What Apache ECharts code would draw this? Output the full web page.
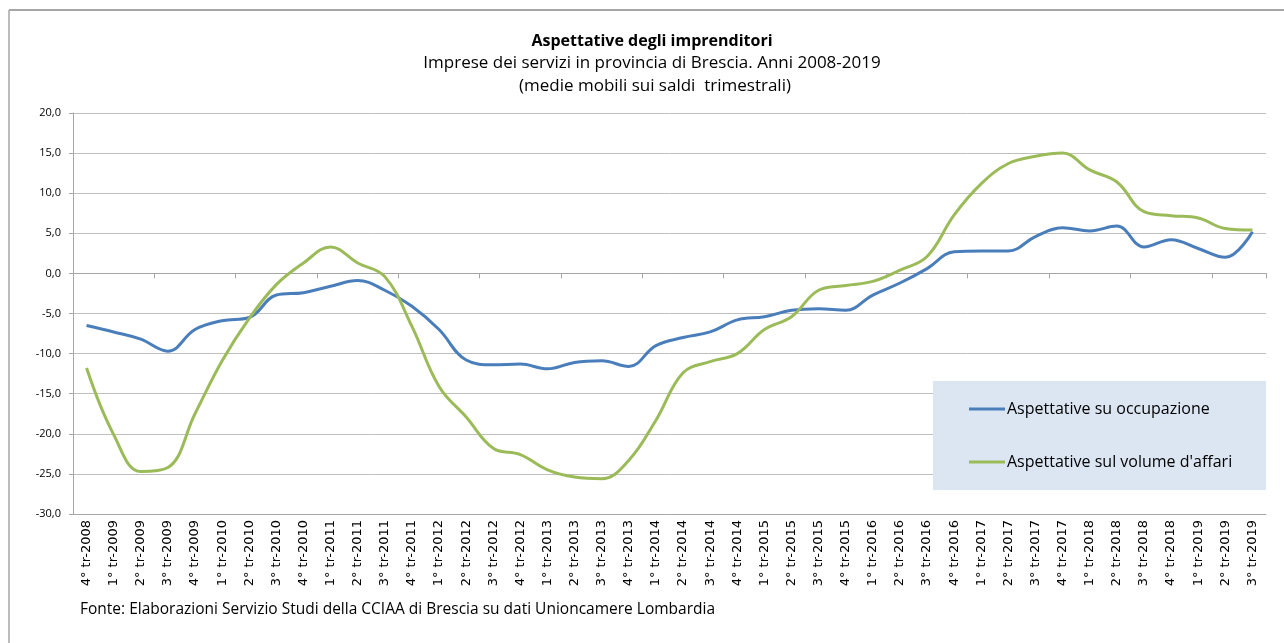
<!DOCTYPE html>
<html>
<head>
<meta charset="utf-8">
<script src="https://cdn.jsdelivr.net/npm/echarts@6/dist/echarts.min.js"></script>
<style>
  html, body { margin: 0; padding: 0; background: #fff; }
  #chart { width: 1284px; height: 643px; }
</style>
</head>
<body>
<div id="chart"></div>
<script>
// trimestri: 4° tr-2008 ... 3° tr-2019
const quarters = [
  '4° tr-2008',
  '1° tr-2009', '2° tr-2009', '3° tr-2009', '4° tr-2009',
  '1° tr-2010', '2° tr-2010', '3° tr-2010', '4° tr-2010',
  '1° tr-2011', '2° tr-2011', '3° tr-2011', '4° tr-2011',
  '1° tr-2012', '2° tr-2012', '3° tr-2012', '4° tr-2012',
  '1° tr-2013', '2° tr-2013', '3° tr-2013', '4° tr-2013',
  '1° tr-2014', '2° tr-2014', '3° tr-2014', '4° tr-2014',
  '1° tr-2015', '2° tr-2015', '3° tr-2015', '4° tr-2015',
  '1° tr-2016', '2° tr-2016', '3° tr-2016', '4° tr-2016',
  '1° tr-2017', '2° tr-2017', '3° tr-2017', '4° tr-2017',
  '1° tr-2018', '2° tr-2018', '3° tr-2018', '4° tr-2018',
  '1° tr-2019', '2° tr-2019', '3° tr-2019'
];

const occupazione = [
  -6.5,
  -7.3, -8.2, -9.7, -7.0,
  -5.9, -5.5, -2.7, -2.4,
  -1.6, -0.9, -2.1, -4.1,
  -7.0, -10.8, -11.4, -11.3,
  -11.9, -11.1, -10.9, -11.6,
  -9.0, -8.0, -7.3, -5.8,
  -5.4, -4.6, -4.4, -4.6,
  -2.7, -1.2, 0.6, 2.7,
  2.8, 2.8, 4.6, 5.7,
  5.3, 5.9, 3.3, 4.2,
  3.1, 2.0, 5.2
];

const volumeAffari = [
  -11.8,
  -20.1, -24.7, -24.2, -17.5,
  -10.9, -5.6, -1.4, 1.3,
  3.3, 1.3, -0.4, -6.6,
  -14.1, -17.9, -21.8, -22.6,
  -24.5, -25.4, -25.6, -23.3,
  -18.3, -12.4, -11.0, -10.0,
  -7.0, -5.4, -2.1, -1.5,
  -1.0, 0.4, 2.1, 7.3,
  11.2, 13.7, 14.6, 15.0,
  12.9, 11.4, 7.7, 7.2,
  6.9, 5.6, 5.4
];

const yTicks = { min: -30, max: 20, interval: 5 };

const font = '"Open Sans", "Noto Sans", sans-serif';

let myChart = echarts.init(document.getElementById('chart'));
let option = {
  backgroundColor: '#fff',
  animation: false,
  graphic: [
    // cornice
    { type: 'line', shape: { x1: 9, y1: 10, x2: 1284, y2: 10 }, style: { stroke: '#a6a6a6', lineWidth: 2 }, z: 1 },
    { type: 'line', shape: { x1: 9, y1: 10, x2: 9, y2: 643 }, style: { stroke: '#a6a6a6', lineWidth: 1.5 }, z: 1 },
    // titoli
    {
      type: 'text', x: 652, y: 41, z: 5,
      style: { text: 'Aspettative degli imprenditori', align: 'center', verticalAlign: 'middle',
        font: 'bold 16px ' + font, fill: '#000' }
    },
    {
      type: 'text', x: 652, y: 63, z: 5,
      style: { text: 'Imprese dei servizi in provincia di Brescia. Anni 2008-2019', align: 'center', verticalAlign: 'middle',
        font: '17px ' + font, fill: '#000' }
    },
    {
      type: 'text', x: 655, y: 86, z: 5,
      style: { text: '(medie mobili sui saldi  trimestrali)', align: 'center', verticalAlign: 'middle',
        font: '17px ' + font, fill: '#000' }
    },
    {
      type: 'text', x: 80, y: 610, z: 5,
      style: { text: 'Fonte: Elaborazioni Servizio Studi della CCIAA di Brescia su dati Unioncamere Lombardia',
        align: 'left', verticalAlign: 'middle', font: '15.5px ' + font, fill: '#000' }
    },
    // sfondo legenda
    { type: 'rect', shape: { x: 933, y: 381, width: 333, height: 109 }, style: { fill: '#dce6f2' }, z: 3 }
  ],
  legend: {
    orient: 'vertical',
    left: 964,
    top: 396,
    itemGap: 37,
    itemWidth: 36,
    itemHeight: 3,
    icon: 'rect',
    z: 6,
    textStyle: { fontFamily: font, fontSize: 16, color: '#000', padding: [0, 0, 0, -3] },
    data: ['Aspettative su occupazione', "Aspettative sul volume d'affari"]
  },
  grid: {
    left: 73,
    right: 18,
    top: 113,
    bottom: 129
  },
  xAxis: [
    {
      type: 'category',
      data: quarters,
      boundaryGap: true,
      axisLine: { onZero: false, lineStyle: { color: '#a6a6a6', width: 1 } },
      axisTick: { show: false },
      axisLabel: {
        rotate: 90,
        interval: 0,
        margin: 6,
        fontFamily: '"DejaVu Sans", sans-serif',
        fontSize: 13,
        color: '#000'
      },
      splitLine: { show: false }
    },
    {
      type: 'category',
      data: quarters,
      position: 'bottom',
      boundaryGap: true,
      axisLine: { onZero: true, lineStyle: { color: '#a6a6a6', width: 1 } },
      axisTick: { show: true, length: 5, lineStyle: { color: '#a6a6a6' } },
      axisLabel: { show: false },
      splitLine: { show: false }
    }
  ],
  yAxis: {
    type: 'value',
    min: yTicks.min,
    max: yTicks.max,
    interval: yTicks.interval,
    axisLine: { show: true, lineStyle: { color: '#a6a6a6' } },
    axisTick: { show: true, length: 4, lineStyle: { color: '#a6a6a6' } },
    axisLabel: {
      margin: 12,
      fontFamily: font,
      fontSize: 11,
      color: '#000',
      formatter: function (v) {
        return v.toFixed(1).replace('.', ',');
      }
    },
    splitLine: { show: true, lineStyle: { color: '#bfbfbf', width: 1 } }
  },
  series: [
    {
      name: 'Aspettative su occupazione',
      type: 'line',
      data: occupazione,
      smooth: 0.4,
      showSymbol: false,
      lineStyle: { color: '#4a7ebb', width: 3 },
      itemStyle: { color: '#4a7ebb' }
    },
    {
      name: "Aspettative sul volume d'affari",
      type: 'line',
      data: volumeAffari,
      smooth: 0.4,
      showSymbol: false,
      lineStyle: { color: '#9bbb59', width: 3 },
      itemStyle: { color: '#9bbb59' }
    }
  ]
};
myChart.setOption(option);
</script>
</body>
</html>
